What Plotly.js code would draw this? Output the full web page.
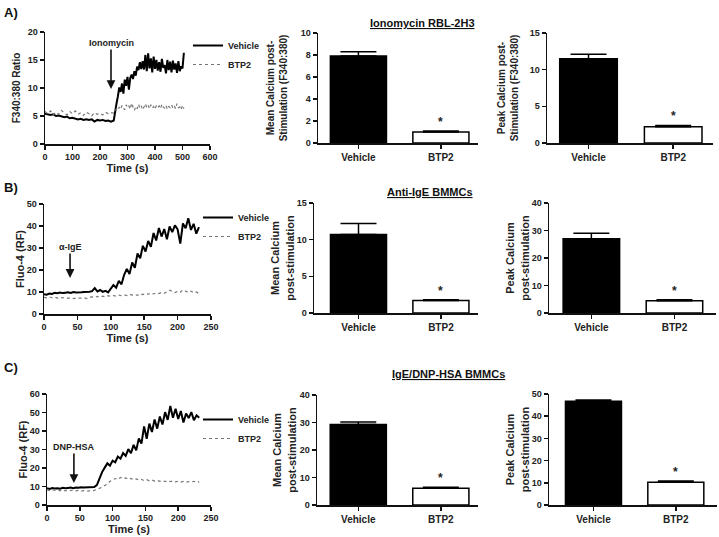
<!DOCTYPE html>
<html>
<head>
<meta charset="utf-8">
<script src="https://cdn.plot.ly/plotly-3.0.1.min.js"></script>
<style>
  html, body { margin: 0; padding: 0; background: #fff; }
  #chart { width: 719px; height: 537px; }
</style>
</head>
<body>
<div id="chart"></div>
<script>
// ---- data ----

// A) Ionomycin RBL-2H3, F340:380 ratio over time
var timeA = [0, 10, 20, 30, 40, 50, 60, 70, 80, 90, 100, 110, 120, 130, 140, 150, 160, 170, 180, 190, 200, 210, 220, 230, 240, 250,
    255, 260, 265, 270, 275, 280, 285, 290, 295, 300, 305, 310, 315, 320, 325, 330, 335, 340, 345, 350, 355, 360, 365, 370, 375,
    380, 385, 390, 395, 400, 405, 410, 415, 420, 425, 430, 435, 440, 445, 450, 455, 460, 465, 470, 475, 480, 485, 490, 495, 500, 505];
var vehicleA = [5.4, 5.3, 5.2, 5.3, 5.0, 5.1, 4.9, 4.8, 4.9, 4.6, 4.7, 4.5, 4.4, 4.5, 4.3, 4.4, 4.3, 4.4, 4.0, 4.3, 4.2, 4.3, 4.1, 4.2, 4.0, 4.2,
    6.0, 7.2, 8.5, 10.1, 9.3, 10.8, 9.0, 11.5, 10.4, 12.0, 9.7, 11.8, 12.4, 11.6, 13.0, 12.2, 13.8, 13.2, 14.6, 13.4, 14.8, 13.3, 15.9, 13.0, 16.2,
    13.5, 15.3, 12.8, 15.6, 13.4, 15.0, 13.1, 14.6, 12.9, 15.2, 13.6, 14.1, 12.6, 15.0, 13.2, 14.7, 12.8, 14.9, 13.3, 14.4, 12.7, 14.8, 13.0, 13.9, 13.5, 16.3];
var btp2A = [5.8, 5.4, 5.9, 5.2, 5.7, 5.3, 6.0, 5.5, 5.2, 5.8, 5.4, 5.9, 5.3, 5.6, 5.1, 5.7, 5.4, 5.0, 5.6, 5.3, 5.5, 5.2, 5.7, 5.4, 5.6, 5.5,
    5.9, 6.3, 6.0, 6.6, 6.2, 6.9, 6.4, 6.1, 7.0, 6.5, 6.8, 6.2, 7.3, 6.6, 6.0, 6.7, 6.3, 7.1, 6.4, 6.8, 6.1, 6.6, 7.2, 6.5, 6.9,
    6.3, 7.0, 6.4, 6.7, 6.2, 6.9, 6.5, 6.8, 6.3, 7.1, 6.6, 6.4, 6.9, 6.2, 6.7, 6.5, 7.0, 6.4, 6.8, 6.3, 7.2, 6.5, 6.6, 6.1, 6.9, 6.3];

// B) Anti-IgE BMMCs and C) IgE/DNP-HSA BMMCs share the same sampling
var timeBC = [0, 4, 8, 12, 16, 20, 24, 28, 32, 36, 40, 44, 48, 52, 56, 60, 64, 68, 72, 76, 80, 84, 88, 92, 96, 100, 104, 108, 112, 116,
    120, 124, 128, 132, 136, 140, 144, 148, 152, 156, 160, 164, 168, 172, 176, 180, 184, 188, 192, 196, 200, 204, 208, 212, 216, 220, 224, 228, 232];
var vehicleB = [9.0, 8.8, 9.3, 9.1, 9.6, 9.4, 9.8, 9.5, 9.7, 9.9, 9.6, 10.0, 9.8, 10.0, 9.9, 10.0, 10.0, 10.1, 10.4, 11.8, 10.2, 10.9, 10.1, 10.5, 9.8, 11.5, 13.2, 12.0, 15.1, 13.5,
    17.8, 20.5, 18.2, 23.4, 21.0, 27.5, 25.3, 31.0, 28.4, 33.2, 30.5, 36.8, 33.4, 39.1, 35.2, 38.6, 34.0, 39.8, 37.2, 40.3, 38.5, 32.0, 41.2, 39.0, 43.5, 38.2, 41.0, 36.5, 39.5];
var btp2B = [7.6, 7.3, 7.8, 7.4, 7.7, 7.2, 7.6, 7.3, 7.5, 7.1, 7.4, 7.0, 7.3, 7.1, 7.2, 7.4, 7.0, 7.6, 7.8, 7.5, 8.0, 7.7, 8.1, 7.8, 8.3, 8.0, 8.4, 8.1, 8.6, 8.3,
    8.7, 8.4, 9.0, 8.6, 8.9, 8.5, 9.2, 8.8, 9.3, 9.0, 9.5, 9.1, 9.6, 9.3, 9.8, 9.4, 10.1, 10.8, 10.2, 9.7, 10.3, 9.9, 11.0, 10.2, 9.8, 10.4, 9.6, 10.0, 9.3];
var vehicleC = [9.0, 8.7, 9.2, 8.9, 9.1, 8.8, 9.3, 9.0, 9.2, 9.4, 9.1, 9.5, 9.3, 9.6, 9.4, 9.5, 9.6, 9.5, 9.7, 10.8, 14.5, 17.8, 20.2, 22.5, 21.3, 24.0, 23.1, 26.2, 25.0, 28.1,
    26.5, 30.2, 28.0, 32.5, 29.6, 36.0, 33.2, 42.5, 35.8, 44.0, 39.5, 46.2, 41.3, 47.8, 43.5, 50.2, 46.0, 53.5, 47.2, 52.0, 46.5, 50.8, 44.6, 49.5, 47.0, 50.2, 45.8, 48.5, 47.2];
var btp2C = [8.2, 7.8, 8.4, 7.9, 8.3, 7.7, 8.1, 7.6, 8.0, 7.8, 8.2, 7.6, 7.9, 7.5, 7.8, 7.4, 7.7, 7.5, 7.9, 8.4, 8.9, 9.6, 10.5, 11.4, 12.8, 13.6, 14.3, 13.8, 14.9, 14.2,
    14.6, 13.9, 14.4, 13.6, 14.1, 13.5, 13.9, 13.2, 13.7, 13.1, 13.5, 12.9, 13.3, 12.8, 13.2, 12.7, 13.1, 12.6, 13.0, 12.5, 12.9, 12.4, 12.8, 12.3, 12.7, 12.4, 12.8, 12.2, 12.6];

// bar summaries: [Vehicle, BTP2] and upward error (SEM)
var groups = ['Vehicle', 'BTP2'];
var meanA = [7.9, 1.0],  meanAErr = [0.4, 0.1];
var peakA = [11.5, 2.2], peakAErr = [0.6, 0.2];
var meanB = [10.7, 1.7], meanBErr = [1.5, 0.1];
var peakB = [27.0, 4.5], peakBErr = [2.0, 0.3];
var meanC = [29.3, 6.1], meanCErr = [0.9, 0.4];
var peakC = [46.7, 10.3], peakCErr = [0.6, 0.5];

// ---- helpers ----
var W = 719, H = 537;
function dx(a, b) { return [a / W, b / W]; }
function dy(top, bottom) { return [1 - bottom / H, 1 - top / H]; }

function axis(n, extra) {
    // each x axis sits on its own y axis and the other way round
    var isX = extra.isX;
    delete extra.isX;
    var base = {
        anchor: (isX ? 'y' : 'x') + (n === 1 ? '' : n),
        showline: true, linecolor: '#111', linewidth: 1.5,
        ticks: 'outside', ticklen: 4, tickwidth: 1.5, tickcolor: '#111',
        showgrid: false, zeroline: false, fixedrange: true,
        tickfont: {size: 9, color: '#222'}
    };
    return Object.assign(base, extra);
}
function xa(n, extra) { extra.isX = true; return axis(n, extra); }
function ya(n, extra) { extra.isX = false; return axis(n, extra); }

function lineTraces(t, veh, btp, n, legendName) {
    var ax = n === 1 ? '' : n;
    return [
        {x: t, y: veh, type: 'scatter', mode: 'lines', name: 'Vehicle',
         line: {color: '#000', width: 2}, xaxis: 'x' + ax, yaxis: 'y' + ax, legend: legendName},
        {x: t, y: btp, type: 'scatter', mode: 'lines', name: 'BTP2',
         line: {color: '#777', width: 1.2, dash: 'dot'}, xaxis: 'x' + ax, yaxis: 'y' + ax, legend: legendName}
    ];
}

function barTrace(vals, errs, n) {
    return {
        x: groups, y: vals, type: 'bar', showlegend: false,
        width: 0.68,
        marker: {color: ['#000', '#fff'], line: {color: '#000', width: 1.5}},
        error_y: {type: 'data', array: errs, symmetric: false, arrayminus: [0, 0],
                  color: '#000', thickness: 1.5, width: 18},
        xaxis: 'x' + n, yaxis: 'y' + n
    };
}

function star(n, vals, errs) {
    return {x: 'BTP2', y: vals[1] + errs[1], xref: 'x' + n, yref: 'y' + n,
            text: '*', showarrow: false, yanchor: 'bottom', yshift: 0,
            font: {size: 12}};
}

var data = []
    .concat(lineTraces(timeA, vehicleA, btp2A, 1, 'legend'))
    .concat([barTrace(meanA, meanAErr, 2), barTrace(peakA, peakAErr, 3)])
    .concat(lineTraces(timeBC, vehicleB, btp2B, 4, 'legend2'))
    .concat([barTrace(meanB, meanBErr, 5), barTrace(peakB, peakBErr, 6)])
    .concat(lineTraces(timeBC, vehicleC, btp2C, 7, 'legend3'))
    .concat([barTrace(meanC, meanCErr, 8), barTrace(peakC, peakCErr, 9)]);

function timeTitle() { return {text: 'Time (s)', font: {size: 11}, standoff: 0}; }
function ytitle(txt, size, gap) { return {text: txt, font: {size: size}, standoff: gap}; }
var catFont = {size: 10, color: '#222'};
var legendStyle = {bgcolor: 'rgba(0,0,0,0)', borderwidth: 0, xanchor: 'left', yanchor: 'top',
                   font: {size: 9}, tracegroupgap: 0};

var layout = {
    width: W, height: H,
    margin: {l: 0, r: 0, t: 0, b: 0},
    paper_bgcolor: '#fff', plot_bgcolor: '#fff',
    font: {family: 'Liberation Sans, Arial, sans-serif', size: 9, color: '#222', weight: 'bold'},

    // row A
    xaxis: xa(1, {domain: dx(45, 210), range: [0, 600], dtick: 100, title: timeTitle()}),
    yaxis: ya(1, {domain: dy(32, 144), range: [0, 20], dtick: 5, title: ytitle('F340:380 Ratio', 10, 5)}),
    xaxis2: xa(2, {domain: dx(318, 478), range: [-0.49, 1.45], tickfont: catFont}),
    yaxis2: ya(2, {domain: dy(33, 143), range: [0, 10], dtick: 2,
                   title: ytitle('Mean Calcium post-<br>Stimulation (F340:380)', 10, 11)}),
    xaxis3: xa(3, {domain: dx(547, 713), range: [-0.49, 1.47], tickfont: catFont}),
    yaxis3: ya(3, {domain: dy(33, 143), range: [0, 15], dtick: 5,
                   title: ytitle('Peak Calcium post-<br>Stimulation (F340:380)', 10, 9)}),

    // row B
    xaxis4: xa(4, {domain: dx(44, 211), range: [0, 250], dtick: 50, title: timeTitle()}),
    yaxis4: ya(4, {domain: dy(204, 314), range: [0, 50], dtick: 10, title: ytitle('Fluo-4 (RF)', 11, 0)}),
    xaxis5: xa(5, {domain: dx(314, 478), range: [-0.54, 1.45], tickfont: catFont}),
    yaxis5: ya(5, {domain: dy(203, 313), range: [0, 15], dtick: 5,
                   title: ytitle('Mean Calcium<br>post-stimulation', 11, 0)}),
    xaxis6: xa(6, {domain: dx(549, 716), range: [-0.51, 1.5], tickfont: catFont}),
    yaxis6: ya(6, {domain: dy(203, 313), range: [0, 40], dtick: 10,
                   title: ytitle('Peak Calcium<br>post-stimulation', 11, 0)}),

    // row C
    xaxis7: xa(7, {domain: dx(47, 211), range: [0, 250], dtick: 50, title: timeTitle()}),
    yaxis7: ya(7, {domain: dy(394, 505), range: [0, 60], dtick: 10, title: ytitle('Fluo-4 (RF)', 11, 0)}),
    xaxis8: xa(8, {domain: dx(317, 478), range: [-0.5, 1.45], tickfont: catFont}),
    yaxis8: ya(8, {domain: dy(395, 505), range: [0, 40], dtick: 10,
                   title: ytitle('Mean Calcium<br>post-stimulation', 11, 1)}),
    xaxis9: xa(9, {domain: dx(549, 717), range: [-0.54, 1.5], tickfont: catFont}),
    yaxis9: ya(9, {domain: dy(394, 505), range: [0, 50], dtick: 10,
                   title: ytitle('Peak Calcium<br>post-stimulation', 11, 0)}),

    legend: Object.assign({x: 188 / W, y: 1 - 31 / H}, legendStyle),
    legend2: Object.assign({x: 198 / W, y: 1 - 203 / H}, legendStyle),
    legend3: Object.assign({x: 198 / W, y: 1 - 405 / H}, legendStyle),

    annotations: [
        // panel letters
        {xref: 'paper', yref: 'paper', x: 2 / W, y: 1 - 3 / H, xanchor: 'left', yanchor: 'top',
         text: 'A)', showarrow: false, font: {size: 13, color: '#111'}},
        {xref: 'paper', yref: 'paper', x: 2 / W, y: 1 - 178 / H, xanchor: 'left', yanchor: 'top',
         text: 'B)', showarrow: false, font: {size: 13, color: '#111'}},
        {xref: 'paper', yref: 'paper', x: 2 / W, y: 1 - 358 / H, xanchor: 'left', yanchor: 'top',
         text: 'C)', showarrow: false, font: {size: 13, color: '#111'}},

        // stimulus arrows
        {x: 240, y: 9.8, xref: 'x', yref: 'y', text: 'Ionomycin', showarrow: true,
         ax: 0, ay: -46, arrowhead: 2, arrowsize: 1.1, arrowwidth: 1.6, arrowcolor: '#111',
         font: {size: 9}},
        {x: 39, y: 16.4, xref: 'x4', yref: 'y4', text: 'α-IgE', showarrow: true,
         ax: 0, ay: -31, arrowhead: 2, arrowsize: 1.1, arrowwidth: 1.6, arrowcolor: '#111',
         font: {size: 9}},
        {x: 41, y: 11.9, xref: 'x7', yref: 'y7', text: 'DNP-HSA', showarrow: true,
         ax: 0, ay: -36, arrowhead: 2, arrowsize: 1.1, arrowwidth: 1.6, arrowcolor: '#111',
         font: {size: 9}},

        // experiment titles
        {xref: 'paper', yref: 'paper', x: 422 / W, y: 1 - 15 / H, text: '<u>Ionomycin RBL-2H3</u>',
         showarrow: false, font: {size: 11, color: '#111'}},
        {xref: 'paper', yref: 'paper', x: 430 / W, y: 1 - 192 / H, text: '<u>Anti-IgE BMMCs</u>',
         showarrow: false, font: {size: 11, color: '#111'}},
        {xref: 'paper', yref: 'paper', x: 448 / W, y: 1 - 382 / H, text: '<u>IgE/DNP-HSA BMMCs</u>',
         showarrow: false, font: {size: 11, color: '#111'}},

        // significance marks
        star(2, meanA, meanAErr), star(3, peakA, peakAErr),
        star(5, meanB, meanBErr), star(6, peakB, peakBErr),
        star(8, meanC, meanCErr), star(9, peakC, peakCErr)
    ]
};

Plotly.newPlot('chart', data, layout, {staticPlot: true, displayModeBar: false});
</script>
</body>
</html>
